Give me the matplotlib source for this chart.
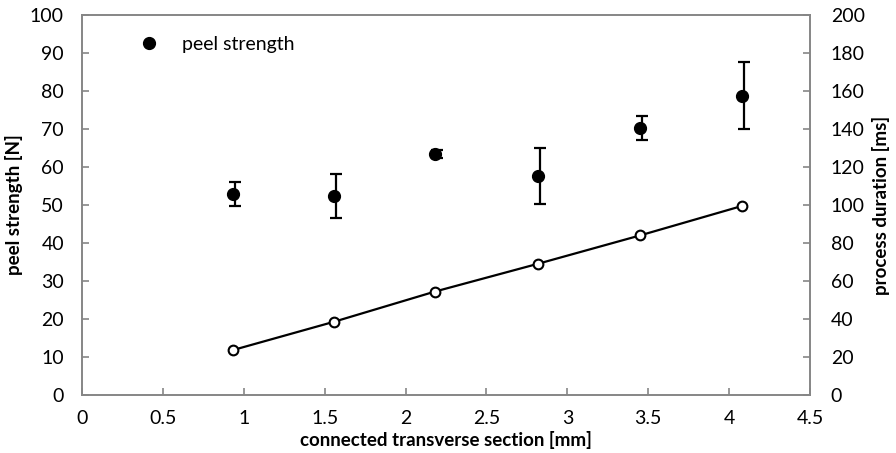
import matplotlib
matplotlib.use("Agg")
import matplotlib.pyplot as plt
from matplotlib.transforms import ScaledTranslation

plt.rcParams['font.family'] = ['Lato', 'DejaVu Sans']

# data
section_mm = [0.935, 1.56, 2.18, 2.82, 3.45, 4.08]
peel_strength = [52.9, 52.4, 63.4, 57.6, 70.3, 78.8]
peel_err = [3.1, 5.75, 1.1, 7.35, 3.15, 8.8]
process_duration = [23.7, 38.6, 54.4, 69.1, 84.0, 99.5]

left_ticks = [0, 10, 20, 30, 40, 50, 60, 70, 80, 90, 100]
right_ticks = [0, 20, 40, 60, 80, 100, 120, 140, 160, 180, 200]
x_ticks = [0, 0.5, 1, 1.5, 2, 2.5, 3, 3.5, 4, 4.5]
x_tick_labels = ['0', '0.5', '1', '1.5', '2', '2.5', '3', '3.5', '4', '4.5']

frame = '#868686'
fs_tick = 14
fs_label = 13.5

fig = plt.figure(figsize=(8.96, 4.53), dpi=100)
ax = fig.add_axes([82/896, 1-395/453, (810-82)/896, (395-15)/453])
ax2 = ax.twinx()

# process duration on right axis
ax2.plot(section_mm, process_duration, color='black', lw=1.6, marker='o',
         markersize=7, markerfacecolor='white', markeredgecolor='black',
         markeredgewidth=1.5, zorder=3)

# peel strength with error bars
off = ScaledTranslation(2/100, 0, fig.dpi_scale_trans)
ax.errorbar(section_mm, peel_strength, yerr=peel_err, fmt='none', ecolor='black',
            elinewidth=1.6, capsize=4.2, capthick=1.6, transform=ax.transData + off,
            zorder=3)
ax.plot(section_mm, peel_strength, linestyle='none', marker='o', markersize=8.5,
        color='black', label='peel strength', zorder=4)

ax.set_xlim(0, 4.5)
ax.set_ylim(0, 100)
ax2.set_ylim(0, 200)
ax.set_xticks(x_ticks)
ax.set_xticklabels(x_tick_labels)
ax.set_yticks(left_ticks)
ax2.set_yticks(right_ticks)

for a in (ax, ax2):
    for s in a.spines.values():
        s.set_color(frame)
        s.set_linewidth(1.2)
ax.tick_params(axis='both', direction='in', length=5, width=1.2, color=frame,
               labelsize=fs_tick, labelcolor='black')
ax.tick_params(axis='x', pad=11)
ax.tick_params(axis='y', pad=13)
ax2.tick_params(axis='y', direction='in', length=5, width=1.2, color=frame,
                labelsize=fs_tick, labelcolor='black', pad=15)

ax.set_xlabel('connected transverse section [mm]', fontsize=fs_label,
              fontweight='bold', labelpad=2.5)
ax.set_ylabel('peel strength [N]', fontsize=fs_label, fontweight='bold', labelpad=5)
ax2.set_ylabel('process duration [ms]', fontsize=fs_label, fontweight='bold',
               labelpad=5)

ax.set_zorder(ax2.get_zorder() + 1)
ax.patch.set_visible(False)

leg = ax.legend(loc='upper left', bbox_to_anchor=(0.055, 0.99), frameon=False,
                fontsize=14, handletextpad=1.2, handlelength=1.0)

fig.savefig('out.png', dpi=100)
